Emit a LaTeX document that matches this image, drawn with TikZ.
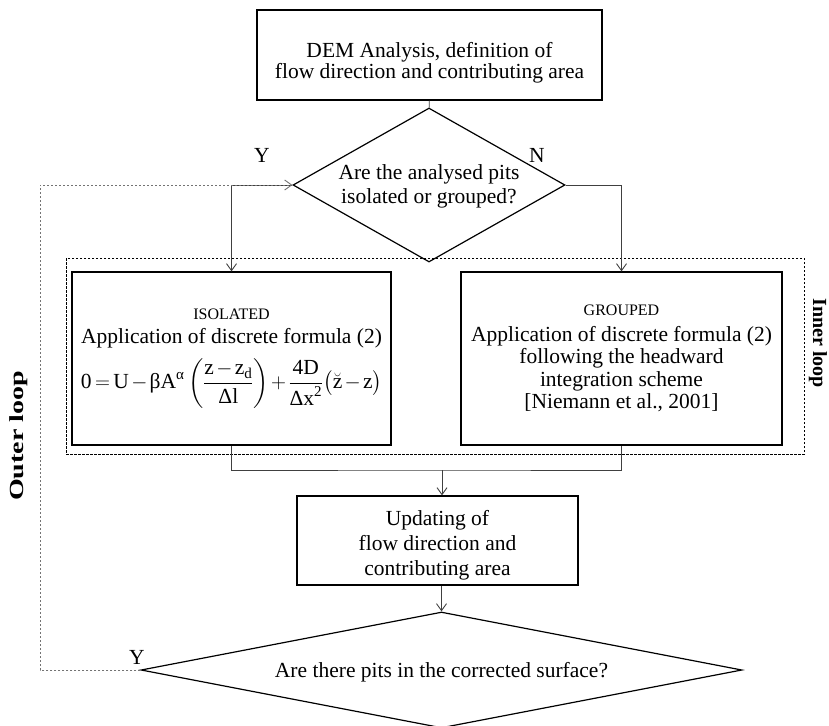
\documentclass[tikz,border=0pt]{standalone}
\usepackage{fontspec}
\setmainfont{Liberation Serif}
\usepackage{amsmath}
\usepackage{graphicx}
\usetikzlibrary{shapes.geometric, arrows.meta, positioning}

\begin{document}
\begin{tikzpicture}[
    x=1pt, y=-1pt,
    font=\fontsize{21.5}{24}\selectfont,
    >={Straight Barb[length=7pt, width=10pt, line width=0.9pt]},
    block/.style={
        rectangle,
        draw=black,
        line width=1.2pt,
        align=center,
        inner sep=0pt
    },
    decision/.style={
        diamond,
        draw=black,
        line width=1.2pt,
        inner sep=0pt
    },
    link/.style={draw=black!75, line width=0.7pt},
    outerloop/.style={draw=black!55, line width=0.8pt, dash pattern=on 2pt off 2pt},
    innerloop/.style={draw=black, line width=0.9pt, dash pattern=on 2.5pt off 1.5pt},
    loopname/.style={font=\fontsize{20}{20}\selectfont\bfseries, inner sep=0pt}
]
    \useasboundingbox (0,0) rectangle (829,725);

    % 1. DEM analysis (Top)
    \node (dem) [block, minimum width=345pt, minimum height=90pt,
        font=\fontsize{21.5}{19}\selectfont] at (429.5,55) {
        \rule{0pt}{30pt}DEM Analysis, definition of \\
        flow direction and contributing area
    };

    % 2. First decision
    \node (pits) [decision, minimum width=272pt, minimum height=154pt] at (429,185) {};
    \node (pitsq) [align=center] at (429,186) {
        Are the analysed pits \\
        isolated or grouped?
    };
    \node (yes) at (262,155) {Y};
    \node (no) at (537,155) {N};

    % 3. Isolated (Middle Left)
    \node (iso) [block, minimum width=319pt, minimum height=173pt] at (231.5,358.5) {
        {\fontsize{16}{24}\selectfont ISOLATED} \\
        Application of discrete formula (2) \\[10pt]
        \medmuskip=2mu \thickmuskip=3mu
        $\text{0}=\text{U}-\text{βA}^{\text{α}}
        \left(\dfrac{\text{z}-\text{z}_{\text{d}}}{\text{Δl}}\right)
        +\dfrac{\text{4D}}{\text{Δx}^{\text{2}}}
        \bigl(\breve{\text{z}}-\text{z}\bigr)$
    };

    % 4. Grouped (Middle Right)
    \node (grp) [block, minimum width=321pt, minimum height=173pt,
        font=\fontsize{21.5}{22.5}\selectfont] at (621.5,358.5) {
        {\fontsize{16}{25}\selectfont GROUPED} \\[3pt]
        Application of discrete formula (2) \\
        following the headward \\
        integration scheme \\
        \mbox{[Niemann et al., 2001]}
    };

    % Inner loop frame
    \node (inner) [innerloop, rectangle, minimum width=738pt, minimum height=196pt] at (435,356) {};
    \node (innername) [loopname, rotate=-90] at (818,343) {Inner loop};

    % 5. Updating (Lower Middle)
    \node (upd) [block, minimum width=281pt, minimum height=89pt,
        font=\fontsize{21.5}{25}\selectfont] at (437.5,540.5) {
        \rule{0pt}{24pt}Updating of \\
        flow direction and \\
        contributing area
    };

    % 6. Second decision (Bottom)
    \node (surf) [decision, minimum width=601pt, minimum height=116pt] at (441.5,670) {};
    \node (surfq) at (441.5,672) {Are there pits in the corrected surface?};
    \node (yes2) at (137,657) {Y};

    % Outer loop name
    \node (outername) [loopname, rotate=90] at (19,436) {\scalebox{1.4}[1]{Outer loop}};

    % Connectors
    \coordinate (merge) at (442,470);
    \draw[link] (dem) -- (pits);
    \draw[link, ->] (pits.west) -| (iso.north);
    \draw[link, ->] (pits.east) -| (grp.north);
    \draw[link] (iso.south) |- (merge) -| (grp.south);
    \draw[link, ->] (merge) -- (merge |- upd.north);
    \draw[link, ->] (surf.north |- upd.south) -- (surf.north);
    \draw[outerloop, ->] (surf.west) -- ++(-100,0) |- (pits.west);

\end{tikzpicture}
\end{document}
